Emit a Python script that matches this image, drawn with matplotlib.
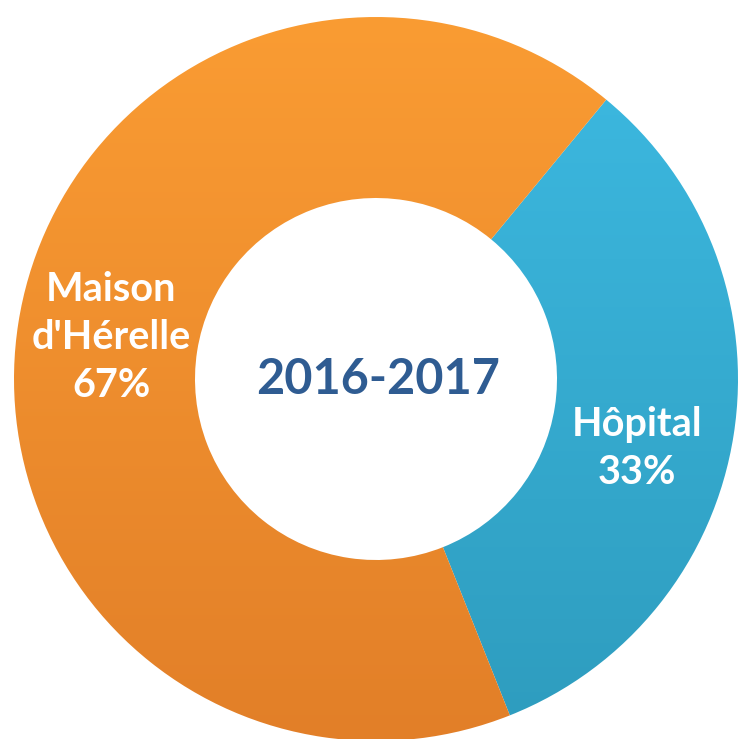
import numpy as np
import matplotlib
matplotlib.use("Agg")
from matplotlib import pyplot as plt
from matplotlib.colors import LinearSegmentedColormap

# data
labels = ["Hôpital", "Maison\nd'Hérelle"]
values = [33, 67]
top_colors = ["#3DBAE2", "#FA9C33"]
bottom_colors = ["#2E9CBE", "#E27F28"]
title = "2016-2017"

W, H = 738, 739
fig = plt.figure(figsize=(W / 100, H / 100), dpi=100)
ax = fig.add_axes([0, 0, 1, 1])

cx, cy = 376, H - 379
R = 362
ring = 0.50

wedges, _ = ax.pie(values, startangle=50.5, counterclock=False,
                   center=(cx, cy), radius=R, frame=True,
                   wedgeprops=dict(width=R * ring, edgecolor="none"))
ax.set_xlim(0, W)
ax.set_ylim(0, H)
ax.set_aspect("equal")
ax.axis("off")

# vertical gradient inside each wedge
grad = np.linspace(0, 1, 256).reshape(-1, 1)
for w, c0, c1 in zip(wedges, top_colors, bottom_colors):
    w.set_facecolor("none")
    cmap = LinearSegmentedColormap.from_list("g", [c1, c0])
    im = ax.imshow(grad, cmap=cmap, aspect="auto", origin="lower",
                   extent=(cx - R, cx + R, cy - R, cy + R), zorder=1)
    im.set_clip_path(w)

font = ["Lato", "DejaVu Sans"]
for w, lab, v in zip(wedges, labels, values):
    ang = np.deg2rad((w.theta1 + w.theta2) / 2)
    r = R * 0.74
    x = cx + r * np.cos(ang)
    y = cy + r * np.sin(ang)
    if v == 33:
        x -= 4
        y -= 28
    ax.text(x, y, f"{lab}\n{v}%", ha="center", va="center", color="white",
            fontsize=28.5, fontweight="bold", family=font, linespacing=1.38,
            zorder=3)

ax.text(cx + 2, cy, title, ha="center", va="center", color="#2F5C92",
        fontsize=35, fontweight="bold", family=font, zorder=3)

fig.savefig("out.png", dpi=100, facecolor="white")
